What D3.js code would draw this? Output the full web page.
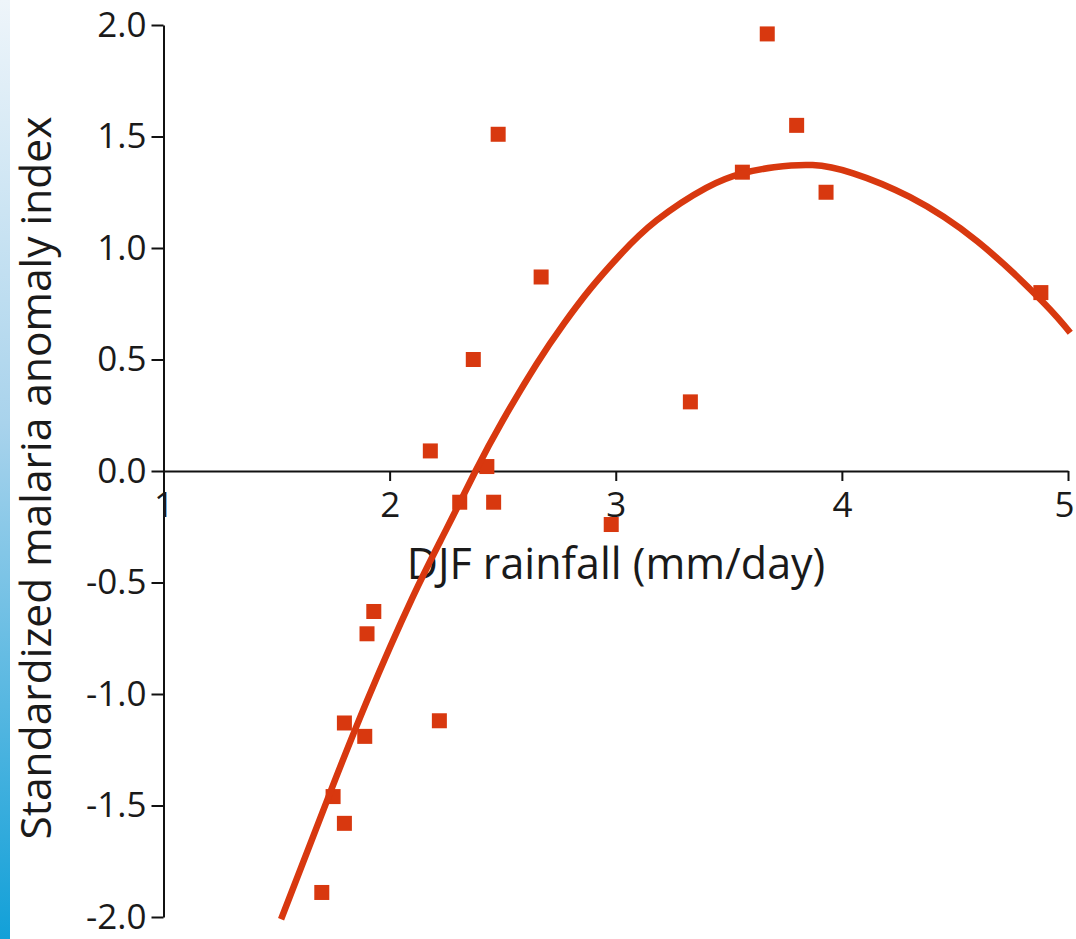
<!DOCTYPE html>
<html lang="en">
<head>
    <meta charset="UTF-8">
    <title>Malaria anomaly vs DJF rainfall</title>
    <script src="https://d3js.org/d3.v7.min.js"></script>
    <style>
        body { margin: 0; background: #fff; }
        svg { display: block; }
        text { font-family: "Open Sans", sans-serif; fill: #1a1a1a; }
    </style>
</head>
<body>
<div id="chart"></div>
<script>
    // observed points (DJF rainfall mm/day, standardized anomaly)
    const rainfall = [1.70, 1.75, 1.80, 1.80, 1.89, 1.90, 1.93, 2.22, 2.18, 2.31, 2.37, 2.43,
        2.46, 2.48, 2.67, 2.98, 3.33, 3.56, 3.67, 3.80, 3.93, 4.88];
    const anomaly = [-1.89, -1.46, -1.58, -1.13, -1.19, -0.73, -0.63, -1.12, 0.09, -0.14, 0.50, 0.02,
        -0.14, 1.51, 0.87, -0.24, 0.31, 1.34, 1.96, 1.55, 1.25, 0.80];

    // fitted curve
    const fitX = [1.52, 1.73, 1.90, 2.10, 2.25, 2.38, 2.50, 2.65, 2.77, 2.89, 3.02, 3.18, 3.40,
        3.56, 3.70, 3.87, 4.05, 4.30, 4.60, 4.89, 5.01];
    const fitY = [-2.01, -1.46, -1.03, -0.57, -0.263, 0.00, 0.226, 0.48, 0.66, 0.82, 0.97, 1.123, 1.27,
        1.335, 1.362, 1.372, 1.335, 1.229, 1.029, 0.757, 0.62];

    const xTicks = [1, 2, 3, 4, 5];
    const yTicks = [-2, -1.5, -1, -0.5, 0, 0.5, 1, 1.5, 2];

    const width = 1076, height = 939;
    const red = "#d8380f";

    const svg = d3.select("#chart").append("svg")
        .attr("width", width)
        .attr("height", height);

    // blue strip on the left edge
    const grad = svg.append("defs").append("linearGradient")
        .attr("id", "strip").attr("x1", 0).attr("y1", 0).attr("x2", 0).attr("y2", 1);
    grad.append("stop").attr("offset", "0%").attr("stop-color", "#eef5fa");
    grad.append("stop").attr("offset", "45%").attr("stop-color", "#a9d3ec");
    grad.append("stop").attr("offset", "100%").attr("stop-color", "#12a0d8");
    svg.append("rect").attr("x", 0).attr("y", 0).attr("width", 10).attr("height", height)
        .attr("fill", "url(#strip)");

    const x = d3.scaleLinear().domain([1, 5]).range([163.5, 1068]);
    const y = d3.scaleLinear().domain([-2, 2]).range([917, 25]);

    const yAxis = svg.append("g")
        .attr("transform", `translate(${x(1)},0)`)
        .call(d3.axisLeft(y).tickValues(yTicks).tickSize(12).tickSizeOuter(0).tickPadding(5)
            .tickFormat(d => d.toFixed(1)));

    const xAxis = svg.append("g")
        .attr("transform", `translate(0,${y(0)})`)
        .call(d3.axisBottom(x).tickValues(xTicks).tickSize(10).tickSizeOuter(0).tickPadding(11)
            .tickFormat(d3.format("d")));

    [xAxis, yAxis].forEach(g => {
        g.select(".domain").attr("stroke", "#111").attr("stroke-width", 2);
        g.selectAll(".tick line").attr("stroke", "#111").attr("stroke-width", 2);
        g.selectAll(".tick text").attr("font-size", 35).attr("fill", "#1a1a1a")
            .style("font-family", "'Open Sans', sans-serif");
    });
    // last x label sits right on the page edge
    xAxis.selectAll(".tick text").filter(d => d === 5).attr("dx", -4);

    svg.append("text")
        .attr("x", 616)
        .attr("y", 579)
        .attr("text-anchor", "middle")
        .attr("font-size", 43)
        .text("DJF rainfall (mm/day)");

    svg.append("text")
        .attr("transform", `translate(51,478) rotate(-90)`)
        .attr("text-anchor", "middle")
        .attr("font-size", 42.5)
        .text("Standardized malaria anomaly index");

    const pts = rainfall.map((r, i) => ({ r: r, a: anomaly[i] }));
    const sq = 15;
    svg.append("g").selectAll("rect")
        .data(pts)
        .join("rect")
        .attr("x", d => x(d.r) - sq / 2)
        .attr("y", d => y(d.a) - sq / 2)
        .attr("width", sq)
        .attr("height", sq)
        .attr("fill", red);

    const line = d3.line()
        .x(d => x(d[0]))
        .y(d => y(d[1]))
        .curve(d3.curveNatural);

    svg.append("path")
        .datum(fitX.map((v, i) => [v, fitY[i]]))
        .attr("fill", "none")
        .attr("stroke", red)
        .attr("stroke-width", 6.5)
        .attr("d", line);
</script>
</body>
</html>
